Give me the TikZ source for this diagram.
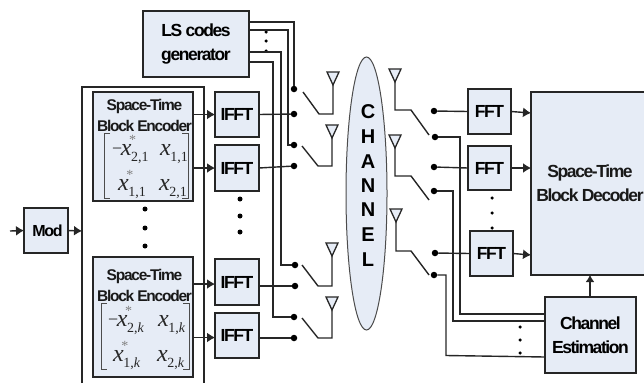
\documentclass[tikz,border=0pt]{standalone}
\usepackage{fontspec}
\setmainfont{Liberation Sans}
\newfontfamily\tightb[LetterSpace=-8]{Liberation Sans Bold}
\newfontfamily\mathser{Liberation Serif Italic}
\newfontfamily\upser{Liberation Serif}
\usetikzlibrary{arrows.meta,shapes.geometric}
\definecolor{boxfill}{HTML}{E6ECF6}
\definecolor{inkdark}{HTML}{262626}
\newcommand\subpart[2]{\smash{\raisebox{-6pt}{\fontsize{14}{14}\selectfont\kern-.5pt\upser #1{\mathser #2}}}}
\newcommand\xsub[2]{{\mathser x}\subpart{#1}{#2}}
\newcommand\xstar[2]{{\mathser x}\rlap{\smash{\raisebox{11pt}{\hspace{-2.5pt}\fontsize{14}{14}\selectfont\upser\textcolor{gray}{*}}}}\subpart{#1}{#2}}
\newcommand\antenna[3]{%
  \coordinate (#1) at (#2,#3);
  \draw[antennatri] (#2-6,#3-13) -- (#2+6,#3-13) -- (#2,#3) -- cycle;}
\newcommand\bracketpair[4]{%
  \draw[brk] (#1+6,#3) -- (#1,#3) -- (#1,#4) -- (#1+6,#4);
  \draw[brk] (#2-6,#3) -- (#2,#3) -- (#2,#4) -- (#2-6,#4);}
\tikzset{
  bx/.style={draw=inkdark,fill=boxfill,line width=1.4pt,inner sep=0pt,outer sep=0pt,align=center,
    font=\tightb\fontsize{17.5}{24}\selectfont},
  lbl/.style={inner sep=0pt,align=center,font=\tightb\fontsize{17.5}{24}\selectfont,text=black!90},
  enclbl/.style={inner sep=0pt,align=center,font=\tightb\fontsize{15.5}{21}\selectfont,text=black!90},
  wire/.style={draw=inkdark,line width=1.4pt},
  arr/.style={wire,-{Latex[length=8pt,width=10pt]}},
  dot/.style={circle,fill=black,inner sep=0pt,minimum size=6.5pt,outer sep=0pt},
  smalldot/.style={circle,fill=black,inner sep=0pt,minimum size=5pt},
  tinydot/.style={circle,fill=black,inner sep=0pt,minimum size=3.5pt},
  antennatri/.style={draw=inkdark,fill=boxfill,line width=1.3pt,line join=miter},
  brk/.style={draw=black!70,line width=.9pt},
  matent/.style={inner sep=0pt,anchor=base west,font=\fontsize{24}{24}\selectfont,text=black!85},
}
\begin{document}
\begin{tikzpicture}[x=1pt,y=-1pt]
\useasboundingbox (0,0) rectangle (644,383);
% Outer encoder frame
\coordinate (frameL) at (82,231);
\draw[wire] (82,383) -- (82,87) -- (204,87) -- (204,383);
% Boxes
\node[bx,minimum width=106pt,minimum height=66pt] (ls) at (196,44) {LS codes\\generator};
\node[bx,minimum width=44pt,minimum height=45pt,font=\tightb\fontsize{16}{20}\selectfont] (mod) at (46,230.5) {\hspace{3pt}Mod};
\node[bx,minimum width=100pt,minimum height=109pt] (enc1) at (143,146.5) {};
\node[bx,minimum width=100pt,minimum height=120pt] (enc2) at (143,317) {};
\node[enclbl] (enc1t) at (144.5,115) {Space-Time\\Block Encoder};
\node[enclbl] (enc2t) at (144.5,285) {Space-Time\\Block Encoder};
\foreach \n/\y/\h in {ifftA/114.5/45,ifftB/168/46,ifftC/282/46,ifftD/335.5/45}
  \node[bx,minimum width=44pt,minimum height=\h pt] (\n) at (237,\y) {IFFT};
\node[bx,minimum width=43pt,minimum height=45pt] (fftA) at (489.5,111.5) {FFT};
\node[bx,minimum width=43pt,minimum height=44pt] (fftB) at (489.5,168) {FFT};
\node[bx,minimum width=43pt,minimum height=45pt] (fftC) at (491.5,253.5) {FFT};
\node[bx,minimum width=91pt,minimum height=76pt] (est) at (590.5,335) {Channel\\Estimation};
% Decoder, open at the picture edge
\fill[boxfill] (531,92) rectangle (644,275);
\draw[wire] (644,92) -- (531,92) -- (531,275) -- (644,275);
\node[lbl] (dec) at (590,183.5) {Space-Time\\Block Decoder};
\coordinate (decA) at (531,113);
\coordinate (decB) at (531,168);
\coordinate (decC) at (531,255);
\coordinate (decD) at (590,275);
% Matrices
\bracketpair{104}{188}{133}{198}
\bracketpair{101}{189}{303}{369}
\node[matent] (m11) at (111,155) {\raisebox{1pt}{\fontsize{18}{18}\selectfont\upser\kern1pt −}\kern-1.5pt\xstar{2,1}{}};
\node[matent] (m12) at (160,155) {\xsub{1,1}{}};
\node[matent] (m13) at (118,190) {\xstar{1,1}{}};
\node[matent] (m14) at (159,190) {\xsub{2,1}{}};
\node[matent] (m21) at (107,326) {\raisebox{1pt}{\fontsize{18}{18}\selectfont\upser\kern1pt −}\kern-1.5pt\xstar{2,}{k}};
\node[matent] (m22) at (158,326) {\xsub{1,}{k}};
\node[matent] (m23) at (113,361) {\xstar{1,}{k}};
\node[matent] (m24) at (157,361) {\xsub{2,}{k}};
% Channel
\node[ellipse,draw=black!70,fill=boxfill,line width=1pt,minimum width=41pt,minimum height=273pt,inner sep=0pt] (chan) at (366.5,193.5) {};
\foreach \c/\y/\n in {C/112/c1,H/137/c2,A/162/c3,N/186/c4,N/210/c5,E/235/c6,L/260/c7}
  \node[font=\bfseries\fontsize{20}{20}\selectfont,inner sep=0pt] (\n) at (368,\y) {\c};
% Input arrows
\coordinate (src) at (10,231);
\draw[arr] (src) -- (mod.west);
\draw[arr] (mod.east) -- (frameL);
% Encoder to IFFT
\draw[arr] (ifftA.west -| enc1.east) -- (ifftA.west);
\draw[arr] (ifftB.west -| enc1.east) -- (ifftB.west);
\draw[arr] ([yshift=-2pt]ifftC.west -| enc2.east) -- ([yshift=-2pt]ifftC.west);
\draw[arr] ([yshift=-2pt]ifftD.west -| enc2.east) -- ([yshift=-2pt]ifftD.west);
% Stacking dots
\foreach \n/\x/\y in {e1/145/209,e2/145/228,e3/145/246,i1/240/199,i2/240/216,i3/240/232}
  \node[smalldot] (\n) at (\x,\y) {};
\foreach \n/\x/\y in {f1/492/198,f2/492/213,f3/492/228,l1/266/32,l2/266/41,l3/266/51,g1/520/327,g2/520/340,g3/520/353}
  \node[tinydot] (\n) at (\x,\y) {};
% Transmit switch contacts
\foreach \n/\x/\y in {ta/294/89,tb/294/114,tc/294/145,td/294/166,te/295/265,tf/295/286,tg/294/317,th/294/338}
  \node[dot] (\n) at (\x,\y) {};
\draw[wire] ([yshift=22pt]ls.east) -| (ta);
\draw[wire] ([yshift=14pt]ls.east) -| (288,145) -- (tc);
\draw[wire] ([yshift=-8pt]ls.east) -| (281,265) -- (te);
\draw[wire] ([yshift=-18pt]ls.east) -| (273,317) -- (tg);
\draw[wire] (ifftA.east) -- (tb);
\draw[wire] (ifftB.east) -- (td);
\draw[wire] (ifftC.east |- tf) -- (tf);
\draw[wire] (ifftD.east |- th) -- (th);
% Transmit antennas and switches
\antenna{aa}{333}{85}
\antenna{ab}{332}{138}
\antenna{ac}{332}{256}
\antenna{ad}{332}{310}
\coordinate (sa) at (303,92);
\coordinate (sb) at (302,146);
\coordinate (sc) at (302,265);
\coordinate (sd) at (302,318);
\draw[wire] (aa) -- (333,114) -- (319,114) -- (sa);
\draw[wire] (ab) -- (332,166) -- (318,166) -- (sb);
\draw[wire] (ac) -- (332,286) -- (318,286) -- (sc);
\draw[wire] (ad) -- (332,338) -- (318,338) -- (sd);
% Receive antennas and switches
\antenna{ra}{395}{82}
\antenna{rb}{395}{148}
\antenna{rc}{396}{222}
\coordinate (qa) at (429,135);
\coordinate (qb) at (429,200);
\coordinate (qc) at (429,275);
\draw[wire] (ra) -- (395,110) -- (411,110) -- (qa);
\draw[wire] (rb) -- (395,176) -- (411,176) -- (qb);
\draw[wire] (rc) -- (396,251) -- (411,251) -- (qc);
% Receive contacts
\foreach \n/\x/\y in {ra1/434/111,rb1/435/137,rc1/434/167,rd1/434/191,re1/435/253,rf1/434/275}
  \node[dot] (\n) at (\x,\y) {};
\draw[wire] (rc1) -- (fftB.west);
\draw[wire] (ra1) -- (fftA.west);
\draw[wire] (re1) -- (fftC.west);
\draw[wire] (rb1) -| (460,314) -- ([yshift=21pt]est.west);
\draw[wire] (rd1) -| (453,321) -- ([yshift=14pt]est.west);
\draw[wire] (rf1) -| (446,355.5) -- ([yshift=-22pt]est.west);
% FFT to decoder
\draw[arr] (fftA.east) -- (decA);
\draw[arr] (fftB.east) -- (decB);
\draw[arr] (fftC.east) -- (decC);
\draw[wire,-{Latex[length=7pt,width=9pt]}] (est.north -| decD) -- (decD);
\end{tikzpicture}
\end{document}
